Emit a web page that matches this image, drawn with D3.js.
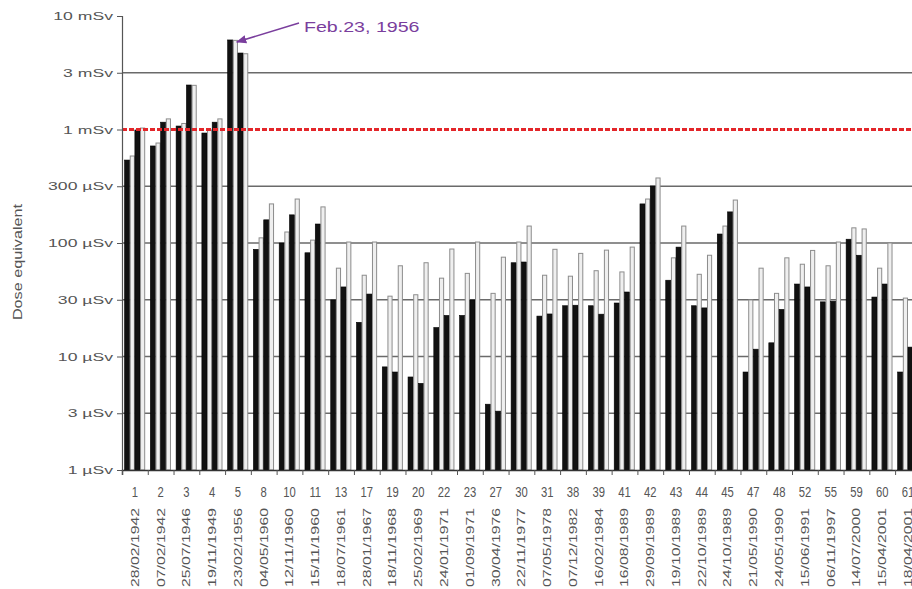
<!DOCTYPE html>
<html>
<head>
<meta charset="utf-8">
<script src="https://cdn.jsdelivr.net/npm/d3@7"></script>
<style>
  html, body { margin: 0; padding: 0; background: #fff; }
  svg { display: block; font-family: "Liberation Sans", Arial, sans-serif; }
</style>
</head>
<body>
<div id="chart"></div>
<script>
// GLE event numbers and dates (x categories)
const gleNumbers = ["1","2","3","4","5","8","10","11","13","17","19","20","22","23","27","30",
  "31","38","39","41","42","43","44","45","47","48","52","55","59","60","61"];
const gleDates = ["28/02/1942","07/02/1942","25/07/1946","19/11/1949","23/02/1956","04/05/1960",
  "12/11/1960","15/11/1960","18/07/1961","28/01/1967","18/11/1968","25/02/1969","24/01/1971",
  "01/09/1971","30/04/1976","22/11/1977","07/05/1978","07/12/1982","16/02/1984","16/08/1989",
  "29/09/1989","19/10/1989","22/10/1989","24/10/1989","21/05/1990","24/05/1990","15/06/1991",
  "06/11/1997","14/07/2000","15/04/2001","18/04/2001"];

// dose equivalent in µSv, four bars per event (black, grey, black, grey)
const doseBlackA = [538, 716, 1073, 931, 6150, 88, 100, 82, 31.5, 20, 8.1, 6.6, 18, 23, 3.8, 67,
  22.7, 28, 28, 29.6, 221, 47, 28, 120, 7.3, 13.2, 43.5, 30.3, 108, 33.4, 7.3];
const doseGreyA = [584, 760, 1130, 990, 6100, 111, 125, 106, 60, 52, 34, 35, 49, 54, 36, 102,
  52, 51, 57, 55.6, 244, 74, 53, 141, 31.5, 36, 65, 63, 136, 60, 32.7];
const doseBlackB = [990, 1160, 2466, 1160, 4720, 160, 177, 147, 41, 35.5, 7.3, 5.8, 23, 31.5, 3.3, 68,
  23.7, 28.3, 23.6, 37, 318, 92, 26.8, 188, 11.6, 26, 41, 30.7, 78, 43.5, 12.1];
const doseGreyB = [1030, 1240, 2450, 1240, 4650, 221, 244, 208, 102, 102, 63, 67, 88.5, 102, 75, 141,
  88, 81, 86.5, 92, 374, 141, 78, 239, 60, 74, 86, 102, 133, 100, 71];

const yTickValues = [1, 3.162, 10, 31.62, 100, 316.2, 1000, 3162, 10000];
const yTickLabels = ["1 µSv","3 µSv","10 µSv","30 µSv","100 µSv","300 µSv","1 mSv","3 mSv","10 mSv"];
const limitValue = 1000;           // 1 mSv reference line
const annotationText = "Feb.23, 1956";

const width = 912, height = 589;
const plotLeft = 122, plotTop = 16, plotBottom = 470;
const step = 25.77;
const plotRight = plotLeft + step * gleNumbers.length;

const svg = d3.select('#chart').append('svg')
  .attr('width', width)
  .attr('height', height);

svg.append('rect').attr('width', width).attr('height', height).attr('fill', '#fff');

// stretch text to the measured width of the original
function stretch(sel, k) {
  sel.each(function() {
    const w = this.getComputedTextLength();
    this.setAttribute('textLength', w * k);
    this.setAttribute('lengthAdjust', 'spacingAndGlyphs');
  });
}

const y = d3.scaleLog()
  .domain([1, 10000])
  .range([plotBottom, plotTop]);

const x = d3.scaleBand()
  .domain(gleNumbers)
  .range([plotLeft, plotRight])
  .paddingInner(0.2)
  .paddingOuter(0.1);

const series = [
  { values: doseBlackA, dark: true },
  { values: doseGreyA, dark: false },
  { values: doseBlackB, dark: true },
  { values: doseGreyB, dark: false }
];

const xInner = d3.scaleBand()
  .domain(d3.range(series.length))
  .range([0, x.bandwidth()]);

// gridlines (no line at the top value)
svg.append('g')
  .selectAll('line')
  .data(yTickValues.filter(v => v > 1 && v < 10000 && v !== limitValue))
  .join('line')
  .attr('x1', plotLeft).attr('x2', width)
  .attr('y1', d => y(d)).attr('y2', d => y(d))
  .attr('stroke', '#6a6a6a')
  .attr('stroke-width', 1.5);

// bars
const groups = svg.append('g')
  .selectAll('g')
  .data(gleNumbers)
  .join('g')
  .attr('transform', d => `translate(${x(d)},0)`);

groups.selectAll('rect')
  .data((d, i) => series.map((s, j) => ({ j, v: s.values[i], dark: s.dark })))
  .join('rect')
  .attr('x', d => xInner(d.j) + (d.dark ? 0 : 0.5))
  .attr('width', d => d.dark ? xInner.bandwidth() : xInner.bandwidth() - 1)
  .attr('y', d => y(d.v))
  .attr('height', d => y(1) - y(d.v))
  .attr('fill', d => d.dark ? '#111' : '#efefef')
  .attr('stroke', d => d.dark ? '#000' : '#8c8c8c')
  .attr('stroke-width', d => d.dark ? 0.6 : 1);

// 1 mSv reference line
svg.append('line')
  .attr('x1', plotLeft).attr('x2', width)
  .attr('y1', y(limitValue)).attr('y2', y(limitValue))
  .attr('stroke', '#e3262a')
  .attr('stroke-width', 3)
  .attr('stroke-dasharray', '5,2');

// y axis
const yAxis = svg.append('g')
  .attr('transform', `translate(${plotLeft},0)`)
  .call(d3.axisLeft(y).tickValues(yTickValues).tickSize(5)
    .tickFormat((d, i) => yTickLabels[i]));
yAxis.select('.domain').attr('stroke', '#555').attr('stroke-width', 1.2);
yAxis.selectAll('.tick line').attr('stroke', '#555');
yAxis.selectAll('.tick text')
  .attr('x', -9)
  .attr('fill', '#555')
  .style('font-size', '11px')
  .style('font-family', '"Liberation Sans", Arial, sans-serif')
  .call(stretch, 1.6);

// x axis: ticks between events
const xIdx = d3.scaleLinear().domain([0, gleNumbers.length]).range([plotLeft, plotRight]);
const xAxis = svg.append('g')
  .attr('transform', `translate(0,${plotBottom})`)
  .call(d3.axisBottom(xIdx).tickValues(d3.range(gleNumbers.length + 1)).tickSize(5).tickFormat(''));
xAxis.select('.domain').attr('stroke', '#333').attr('stroke-width', 1.5);
xAxis.selectAll('.tick line').attr('stroke', '#555');

// event numbers
svg.append('g')
  .selectAll('text')
  .data(gleNumbers)
  .join('text')
  .attr('x', d => x(d) + x.bandwidth() / 2)
  .attr('y', 497)
  .attr('text-anchor', 'middle')
  .attr('fill', '#555')
  .style('font-size', '15px')
  .text(d => d)
  .call(stretch, 0.75);

// event dates (rotated)
svg.append('g')
  .selectAll('text')
  .data(gleNumbers)
  .join('text')
  .attr('transform', d => `translate(${x(d) + x.bandwidth() / 2},508) rotate(-90)`)
  .attr('text-anchor', 'end')
  .attr('dy', '0.35em')
  .attr('fill', '#555')
  .style('font-size', '11px')
  .attr('textLength', 79)
  .attr('lengthAdjust', 'spacingAndGlyphs')
  .text((d, i) => gleDates[i]);

// y title
svg.append('text')
  .attr('transform', 'translate(17,262) rotate(-90)')
  .attr('text-anchor', 'middle')
  .attr('dy', '0.35em')
  .attr('fill', '#555')
  .style('font-size', '13.5px')
  .text('Dose equivalent')
  .call(stretch, 1.2);

// annotation for GLE 5
const defs = svg.append('defs');
defs.append('marker')
  .attr('id', 'arrow')
  .attr('viewBox', '0 0 10 10')
  .attr('refX', 9).attr('refY', 5)
  .attr('markerWidth', 7).attr('markerHeight', 7)
  .attr('orient', 'auto')
  .append('path')
  .attr('d', 'M0,1 L10,5 L0,9 Z')
  .attr('fill', '#7a3e9d');

const peakX = x('5') + xInner(1) + 4;
const peakY = y(doseBlackA[4]) + 2;
svg.append('line')
  .attr('x1', 299).attr('y1', 23)
  .attr('x2', peakX).attr('y2', peakY)
  .attr('stroke', '#7a3e9d')
  .attr('stroke-width', 1.5)
  .attr('marker-end', 'url(#arrow)');

svg.append('text')
  .attr('x', 304).attr('y', 32)
  .attr('fill', '#7a3e9d')
  .style('font-size', '14px')
  .text(annotationText)
  .call(stretch, 1.4);
</script>
</body>
</html>
